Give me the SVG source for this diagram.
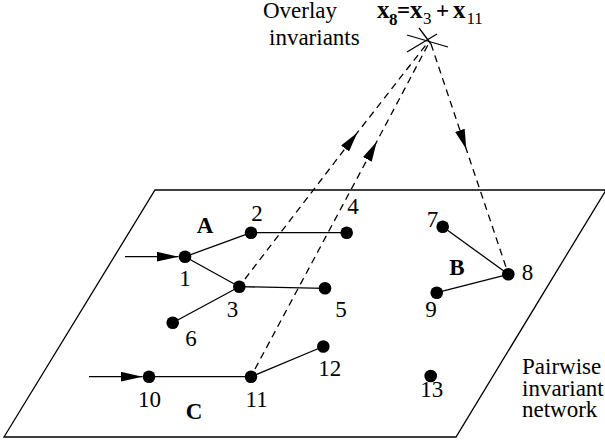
<svg xmlns="http://www.w3.org/2000/svg" width="605" height="442" viewBox="0 0 605 442">
<style>
.ln{stroke:#000;stroke-width:1.3;fill:none}
.dash{stroke:#000;stroke-width:1.3;fill:none;stroke-dasharray:7 5}
.nd{fill:#000}
text{font-family:"Liberation Serif","Times New Roman",serif;font-size:23px;fill:#000}
.b{font-weight:bold}
.m{text-anchor:middle}
</style>
<defs>
<marker id="ah" viewBox="0 0 20 10" refX="20" refY="5" markerWidth="20" markerHeight="10" markerUnits="userSpaceOnUse" orient="auto">
<path d="M0,0 L20,5 L0,10 Z" fill="#000"/>
</marker>
<marker id="ahs" viewBox="0 0 22 10" refX="22" refY="5" markerWidth="22" markerHeight="10" markerUnits="userSpaceOnUse" orient="auto">
<path d="M0,0 L22,5 L0,10 Z" fill="#000"/>
</marker>
</defs>
<g id="plane">
<path class="ln" d="M155,190 L606,190 L456,437 L4,437 Z"/>
<text x="522" y="374">Pairwise</text>
<text x="522" y="395.5">invariant</text>
<text x="522" y="417">network</text>
</g>
<g id="overlay">
<text x="263" y="18">Overlay</text>
<text x="269" y="45">invariants</text>
<line class="ln" x1="407" y1="35" x2="448" y2="47"/>
<line class="ln" x1="407" y1="52" x2="437" y2="34"/>
<line class="ln" x1="419" y1="28" x2="431" y2="44"/>
<text><tspan class="b" x="377" y="18" font-size="25">x</tspan><tspan class="b" x="389" y="25" font-size="17">8</tspan><tspan class="b" x="397" y="18" font-size="23">=</tspan><tspan class="b" x="410" y="18" font-size="25">x</tspan><tspan x="423" y="24" font-size="17">3</tspan><tspan class="b" x="436" y="18" font-size="23">+</tspan><tspan class="b" x="453" y="18" font-size="25">x</tspan><tspan x="466.5" y="24" font-size="17">11</tspan></text>
</g>
<g id="connectors">
<line class="ln" x1="185" y1="256.7" x2="251" y2="232.7"/>
<line class="ln" x1="185" y1="256.7" x2="239.3" y2="286.7"/>
<line class="ln" x1="251" y1="232.7" x2="346.7" y2="232.7"/>
<line class="ln" x1="239.3" y1="286.7" x2="325" y2="288.3"/>
<line class="ln" x1="239.3" y1="286.7" x2="172.7" y2="322.7"/>
<line class="ln" x1="442.7" y1="226.7" x2="508.3" y2="274.3"/>
<line class="ln" x1="436.7" y1="292.7" x2="508.3" y2="274.3"/>
<line class="ln" x1="149" y1="376.7" x2="251" y2="376.7"/>
<line class="ln" x1="251" y1="376.7" x2="323.3" y2="346.5"/>
<line class="ln" x1="125" y1="256.7" x2="178.5" y2="256.7" marker-end="url(#ahs)"/>
<line class="ln" x1="89" y1="376.7" x2="142.5" y2="376.7" marker-end="url(#ahs)"/>
<path class="dash" d="M245,279 L357.3,132.7 L429,41" marker-mid="url(#ah)"/>
<path class="dash" d="M255,369 L376.7,141.7 L430,41" marker-mid="url(#ah)"/>
<path class="dash" d="M431,44 L466.3,149.3 L508,273" marker-mid="url(#ah)"/>
</g>
<g id="node-A"><text class="b m" x="205" y="233">A</text></g>
<g id="node-B"><text class="b m" x="457" y="275">B</text></g>
<g id="node-C"><text class="b m" x="194" y="419">C</text></g>
<g id="node-1"><circle class="nd" cx="185" cy="256.7" r="6.3"/><text class="m" x="185" y="286">1</text></g>
<g id="node-2"><circle class="nd" cx="251" cy="232.7" r="6.3"/><text class="m" x="257" y="220.5">2</text></g>
<g id="node-3"><circle class="nd" cx="239.3" cy="286.7" r="6.3"/><text class="m" x="232.5" y="316.7">3</text></g>
<g id="node-4"><circle class="nd" cx="346.7" cy="232.7" r="6.3"/><text class="m" x="353" y="214.3">4</text></g>
<g id="node-5"><circle class="nd" cx="325" cy="288.3" r="6.3"/><text class="m" x="341" y="316.7">5</text></g>
<g id="node-6"><circle class="nd" cx="172.7" cy="322.7" r="6.3"/><text class="m" x="191" y="346">6</text></g>
<g id="node-7"><circle class="nd" cx="442.7" cy="226.7" r="6.3"/><text class="m" x="432.5" y="227">7</text></g>
<g id="node-8"><circle class="nd" cx="508.3" cy="274.3" r="6.3"/><text class="m" x="527.5" y="280">8</text></g>
<g id="node-9"><circle class="nd" cx="436.7" cy="292.7" r="6.3"/><text class="m" x="431" y="317.3">9</text></g>
<g id="node-10"><circle class="nd" cx="149" cy="376.7" r="6.3"/><text class="m" x="149.5" y="406.7">10</text></g>
<g id="node-11"><circle class="nd" cx="251" cy="376.7" r="6.3"/><text class="m" x="256.7" y="407">11</text></g>
<g id="node-12"><circle class="nd" cx="323.3" cy="346.5" r="6.3"/><text class="m" x="329.7" y="376">12</text></g>
<g id="node-13"><circle class="nd" cx="430.7" cy="376" r="6.3"/><text class="m" x="431.7" y="396.7">13</text></g>
</svg>
